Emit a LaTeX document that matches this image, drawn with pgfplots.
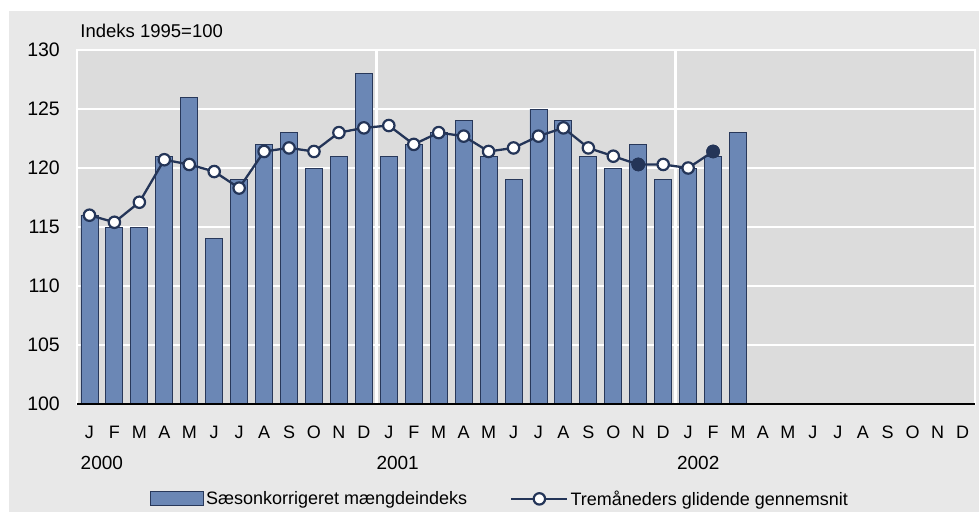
\documentclass[border=0pt]{standalone}
\usepackage{pgfplots}
\pgfplotsset{compat=1.18}
\usepackage{pgfplotstable}
\usepackage{fontspec}
\setmainfont{Liberation Sans}
\definecolor{outerbg}{RGB}{232,232,232}
\definecolor{plotbg}{RGB}{220,220,220}
\definecolor{barfill}{RGB}{107,135,181}
\definecolor{baredge}{RGB}{40,56,90}
\definecolor{navy}{RGB}{36,53,88}

\pgfplotstableread{
x y
0 116
1 115
2 115
3 121
4 126
5 114
6 119
7 122
8 123
9 120
10 121
11 128
12 121
13 122
14 123
15 124
16 121
17 119
18 125
19 124
20 121
21 120
22 122
23 119
24 120
25 121
26 123
}\bars

\pgfplotstableread{
x y
0 116.0
1 115.4
2 117.1
3 120.7
4 120.3
5 119.7
6 118.3
7 121.4
8 121.7
9 121.4
10 123.0
11 123.4
12 123.6
13 122.0
14 123.0
15 122.7
16 121.4
17 121.7
18 122.7
19 123.4
20 121.7
21 121.0
22 120.3
23 120.3
24 120.0
25 121.4
}\avg

\pgfplotstableread{
x y
22 120.3
25 121.4
}\filled

\begin{document}
\begin{tikzpicture}
\fill[white] (0,0) rectangle (979pt,512pt);
\fill[outerbg] (9pt,0) rectangle (979pt,501pt);
\begin{axis}[
  at={(77pt,108pt)}, anchor=south west,
  scale only axis, width=898pt, height=354pt,
  xmin=-0.5, xmax=35.5, ymin=100, ymax=130,
  clip=false,
  axis background/.style={fill=plotbg},
  axis line style={white, line width=1.5pt},
  ytick={100,105,...,130},
  yticklabel={\pgfmathprintnumber{\tick}},
  xtick={0,...,35},
  xticklabels={J,F,M,A,M,J,J,A,S,O,N,D,J,F,M,A,M,J,J,A,S,O,N,D,J,F,M,A,M,J,J,A,S,O,N,D},
  major tick length=0pt,
  ymajorgrids,
  major grid style={white, line width=2pt},
  extra x ticks={11.5,23.5},
  extra x tick labels={},
  extra x tick style={xmajorgrids, major grid style={white, line width=2.5pt}},
  yticklabel style={font=\fontsize{19.5}{22}\selectfont, text=black, anchor=east, inner sep=0pt, xshift=-17pt},
  xticklabel style={font=\fontsize{18}{21}\selectfont, text=black, anchor=base, inner sep=0pt, yshift=-34.5pt},
  /pgf/number format/assume math mode=true,
  legend columns=2,
  legend style={at={(0.0813,-0.268)}, anchor=west, draw=none, fill=none,
    font=\fontsize{18}{21}\selectfont, inner sep=0pt,
    /tikz/every even column/.append style={column sep=41pt}},
  legend cell align=left,
]
\addplot[ybar, bar width=17pt, fill=barfill, draw=baredge, line width=0.9pt,
  legend image code/.code={\draw[fill=barfill, draw=baredge, line width=0.9pt] (0pt,-7pt) rectangle (53pt,7pt);}]
  table[x=x,y=y] {\bars};
\addlegendentry{Sæsonkorrigeret mængdeindeks}
\addplot[navy, line width=2.3pt, mark=*, mark size=5.7pt, mark options={fill=white, draw=navy, line width=2.2pt},
  legend image code/.code={\draw[navy, line width=2.3pt] (0pt,0pt) -- (56pt,0pt);
    \draw[navy, fill=white, line width=2.2pt] (28pt,0pt) circle (5.7pt);}]
  table[x=x,y=y] {\avg};
\addlegendentry{Tremåneders glidende gennemsnit}
\addplot[only marks, mark=*, mark size=6.6pt, mark options={fill=navy, draw=navy}, forget plot]
  table[x=x,y=y] {\filled};
\draw[black, line width=1.2pt] (rel axis cs:0,0) -- (rel axis cs:1,0);
\node[anchor=west, font=\fontsize{18.5}{21}\selectfont, inner sep=0pt] at (axis cs:-0.37,131.65) {Indeks 1995=100};
\node[anchor=west, font=\fontsize{19}{22}\selectfont, inner sep=0pt] at (axis cs:-0.36,95.0) {2000};
\node[anchor=west, font=\fontsize{19}{22}\selectfont, inner sep=0pt] at (axis cs:11.5,95.0) {2001};
\node[anchor=west, font=\fontsize{19}{22}\selectfont, inner sep=0pt] at (axis cs:23.55,95.0) {2002};
\end{axis}
\pgfresetboundingbox
\path (0,0) rectangle (979pt,512pt);
\end{tikzpicture}
\end{document}
